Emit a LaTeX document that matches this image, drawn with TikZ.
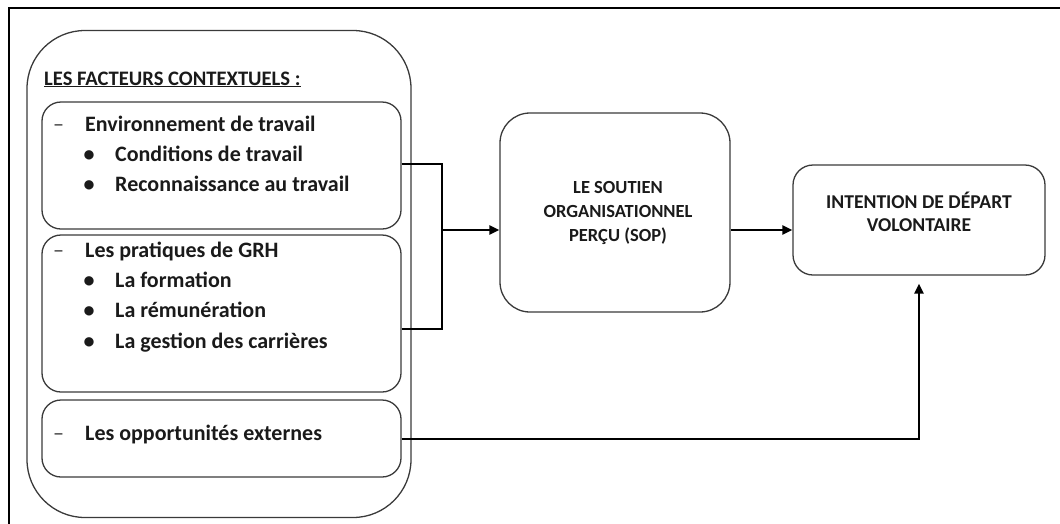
\documentclass[tikz,border=0pt]{standalone}
\usepackage{fontspec}
\setmainfont{Carlito}
\usetikzlibrary{arrows.meta}
\definecolor{boxline}{HTML}{3A3A3A}
\definecolor{ink}{HTML}{1A1A1A}
\begin{document}
\begin{tikzpicture}[x=1pt,y=-1pt,
  box/.style={draw=boxline,line width=1.3pt,rounded corners=#1,inner sep=0pt},
  txt/.style={anchor=base west,inner sep=0pt,text=ink,font=\fontsize{22}{26}\selectfont\bfseries},
  dashmark/.style={anchor=base west,inner sep=0pt,text=boxline,font=\fontsize{22}{26}\selectfont},
  bul/.style={anchor=base,inner sep=0pt,text=ink,font=\fontsize{22}{26}\selectfont\bfseries},
  ctxt/.style={anchor=base,inner sep=0pt,text=ink},
  link/.style={line width=2.4pt,draw=black},
  arr/.style={link,-{Triangle[length=10pt,width=9pt]}}]
\useasboundingbox (0,0) rectangle (1060,523);
% page frame (only its top and left sides fall inside the page)
\draw[line width=1.4pt] (9,530) -- (9,8) -- (1070,8);

% grouping box of the contextual factors
\node[box=58pt,minimum width=384pt,minimum height=487pt] (outer) at (219,274) {};
\node[txt,font=\fontsize{20.6}{24}\selectfont\bfseries] (title) at (44,85) {\underline{LES FACTEURS CONTEXTUELS :}};

% work environment
\node[box=19pt,minimum width=359pt,minimum height=127pt] (env) at (221.5,165.5) {};
\node[dashmark] (envd) at (53,131.5) {–};
\node[txt] (envt) at (85,131.5) {Environnement de travail};
\node[bul] (envb1) at (89,161.5) {•};
\node[txt] (envi1) at (115,161.5) {Conditions de travail};
\node[bul] (envb2) at (89,191.5) {•};
\node[txt] (envi2) at (115,191.5) {Reconnaissance au travail};

% HR practices
\node[box=19pt,minimum width=359pt,minimum height=157pt] (grh) at (221.5,313.5) {};
\node[dashmark] (grhd) at (53,257) {–};
\node[txt] (grht) at (85,257) {Les pratiques de GRH};
\node[bul] (grhb1) at (89,287) {•};
\node[txt] (grhi1) at (115,287) {La formation};
\node[bul] (grhb2) at (89,317) {•};
\node[txt] (grhi2) at (115,317) {La rémunération};
\node[bul] (grhb3) at (89,348) {•};
\node[txt] (grhi3) at (115,348) {La gestion des carrières};

% external opportunities
\node[box=19pt,minimum width=359pt,minimum height=77pt] (ext) at (221.5,438.5) {};
\node[dashmark] (extd) at (53,440.5) {–};
\node[txt] (extt) at (85,440.5) {Les opportunités externes};

% perceived organisational support
\node[box=30pt,minimum width=230pt,minimum height=199pt] (sop) at (615,212.5) {};
\begin{scope}[every node/.style={ctxt,font=\fontsize{18.5}{22}\selectfont\bfseries}]
  \node (sop1) at (618,193.3) {LE SOUTIEN};
  \node (sop2) at (618,217.7) {ORGANISATIONNEL};
  \node (sop3) at (618,241.7) {PERÇU (SOP)};
\end{scope}

% intention to leave
\node[box=20pt,minimum width=252pt,minimum height=110pt] (idv) at (919,220) {};
\begin{scope}[every node/.style={ctxt,font=\fontsize{19.6}{24}\selectfont\bfseries}]
  \node (idv1) at (919,208.3) {INTENTION DE DÉPART};
  \node (idv2) at (919,231.5) {VOLONTAIRE};
\end{scope}

% connectors
\coordinate (jn) at (442,230);
\draw[link] (env.east |- 0,164) -| (jn);
\draw[link] (grh.east |- 0,329) -| (jn);
\draw[arr] (jn) -- (jn -| sop.west);
\draw[arr] (sop.east |- jn) -- (idv.west |- jn);
\draw[arr,shorten >=8pt] (ext.east |- 0,439) -| (idv.south);
\end{tikzpicture}
\end{document}
